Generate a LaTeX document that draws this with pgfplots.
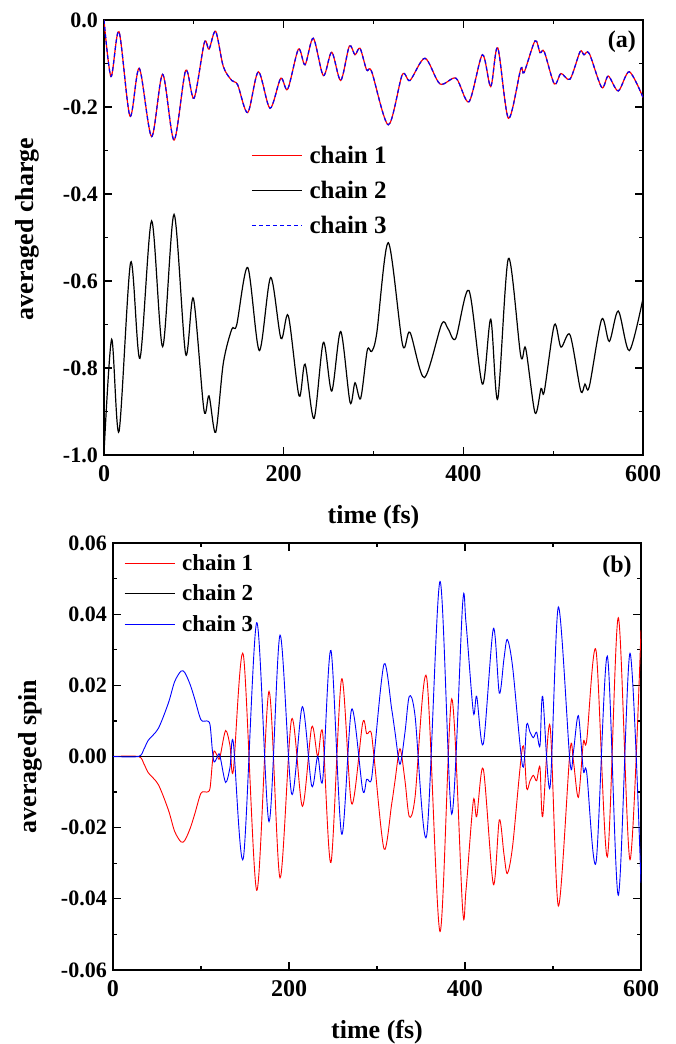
\documentclass[border=0pt]{standalone}
\usepackage{fontspec}
\setmainfont{Liberation Serif}
\usepackage{pgfplots}
\usepackage{pgfplotstable}
\pgfplotsset{compat=1.18}

\pgfplotstableread{
t c1
0 0
7.8 -0.130
16.7 -0.027
28.9 -0.221
39.3 -0.111
53 -0.268
65.3 -0.125
78 -0.276
90.9 -0.116
100.2 -0.180
111.7 -0.052
116.9 -0.067
124.3 -0.026
132.8 -0.107
142.2 -0.139
148.8 -0.149
160 -0.213
171.8 -0.119
184.8 -0.203
196.7 -0.134
204.5 -0.159
216.4 -0.067
223.8 -0.103
233 -0.042
244.2 -0.128
253.5 -0.074
263.5 -0.139
273.1 -0.060
279.4 -0.080
285 -0.065
292.4 -0.115
298 -0.119
316.5 -0.241
332 -0.126
340.6 -0.139
357.3 -0.088
374 -0.147
391.9 -0.134
406.3 -0.188
421.2 -0.080
430.5 -0.153
438.3 -0.064
450.2 -0.226
463.9 -0.113
467.6 -0.121
479.8 -0.048
485.4 -0.075
490.1 -0.073
501.3 -0.147
508.7 -0.123
518.8 -0.136
529.9 -0.073
534.3 -0.080
540.2 -0.077
554 -0.155
561.4 -0.129
572.5 -0.163
584.8 -0.119
600 -0.178
}\chargeA

\pgfplotstableread{
t c2
0 -0.995
8.5 -0.734
16.7 -0.946
29.7 -0.557
40 -0.778
53 -0.462
65.3 -0.751
78 -0.447
90.9 -0.768
99.5 -0.640
111.3 -0.897
116.9 -0.864
124.3 -0.948
132.8 -0.789
142.2 -0.711
147.7 -0.701
160 -0.569
172.9 -0.760
185.5 -0.592
197 -0.732
205.2 -0.680
217.1 -0.864
223.8 -0.791
233.8 -0.916
244.2 -0.741
253.5 -0.853
263.5 -0.716
273.9 -0.879
279.4 -0.834
285.7 -0.870
293.1 -0.759
298 -0.762
303.6 -0.720
316.5 -0.512
332.4 -0.747
340.6 -0.718
356.6 -0.822
375.9 -0.699
383 -0.710
391.5 -0.732
406.3 -0.622
421.2 -0.837
430.5 -0.688
438.3 -0.871
450.2 -0.548
463.9 -0.772
469.4 -0.755
479.8 -0.903
486.5 -0.847
490.1 -0.854
501.3 -0.701
508.7 -0.752
518.8 -0.724
530.6 -0.852
535.4 -0.837
540.2 -0.843
554 -0.688
562.5 -0.739
572.5 -0.669
584.8 -0.760
600 -0.640
}\chargeB

\pgfplotstableread{
t s1 s3
0 0 0
28.8 0 0
35 -0.002 0.002
40.2 -0.0046 0.0046
51.5 -0.0079 0.0079
62.9 -0.015 0.015
70 -0.021 0.021
77.3 -0.024 0.024
81.8 -0.0235 0.0235
88 -0.020 0.020
93.2 -0.0159 0.0159
100 -0.0103 0.0103
106.5 -0.0100 0.0100
110.2 -0.0090 0.0090
112.9 -0.0018 0.0018
114.8 0.0015 -0.0015
117.8 0.0005 -0.0005
120.5 -0.0008 0.0008
122.4 0.0008 -0.0008
128 0.0073 -0.0073
133 0.003 -0.003
136.7 -0.004 0.004
148.1 0.0286 -0.0286
163.3 -0.0376 0.0376
177.3 0.0183 -0.0183
189.8 -0.0341 0.0341
203 0.0105 -0.0105
215.2 -0.0140 0.0140
225.8 0.0083 -0.0083
232.6 0 0
238.3 0.0066 -0.0066
247.7 -0.0298 0.0298
259.8 0.0218 -0.0218
271.2 -0.0133 0.0133
283.7 0.0094 -0.0094
288.3 0.0064 -0.0064
293.2 0.0069 -0.0069
296.6 0 0
308.0 -0.026 0.026
316.7 -0.0133 0.0133
320.5 -0.0068 0.0068
326.1 0.0022 -0.0022
331.8 -0.0068 0.0068
336.7 -0.0169 0.0169
343.2 -0.0115 0.0115
356.4 0.0223 -0.0223
371.6 -0.0492 0.0492
384.9 0.0162 -0.0162
397.3 -0.0429 0.0429
401.1 -0.0377 0.0377
409.5 -0.0124 0.0124
413.3 -0.0169 0.0169
420.8 -0.0035 0.0035
432.2 -0.0359 0.0359
439.0 -0.0178 0.0178
444.3 -0.0275 0.0275
448.1 -0.0329 0.0329
454.2 -0.025 0.025
465.5 0.0028 -0.0028
470.1 -0.009 0.009
473.9 -0.0068 0.0068
477.7 -0.0053 0.0053
481.4 -0.0068 0.0068
485.2 -0.003 0.003
488.3 -0.0169 0.0169
496.6 0.0087 -0.0087
506.1 -0.042 0.042
519.3 0.0015 -0.0015
523.1 -0.0011 0.0011
528.8 -0.0115 0.0115
534.5 0.0040 -0.0040
538.3 0.0045 -0.0045
548.9 0.0298 -0.0298
561.7 -0.0282 0.0282
574.2 0.039 -0.039
587.5 -0.029 0.029
600 0.0355 -0.0355
}\spin

\pgfplotsset{
  myaxis/.style={
    scale only axis,
    anchor=south west,
    xmin=0, xmax=600,
    xtick={0,200,400,600},
    minor x tick num=1,
    minor y tick num=1,
    tick align=inside,
    major tick length=8pt,
    minor tick length=4pt,
    every tick/.style={black, line width=1.2pt},
    axis line style={line width=1.6pt},
    /pgf/number format/assume math mode=true,
    xticklabel style={font=\bfseries\fontsize{24}{24}\selectfont, inner sep=4pt, yshift=-6pt},
    yticklabel style={font=\bfseries\fontsize{22}{22}\selectfont, inner sep=6pt},
    label style={font=\bfseries\fontsize{26}{26}\selectfont},
    legend image code/.code={\draw[##1] (0pt,0pt) -- (50pt,0pt);},
  }
}

\begin{document}
\begin{tikzpicture}
\path[use as bounding box] (0,0) rectangle (676pt,1044pt);

\begin{axis}[myaxis,
  at={(104pt,589pt)},
  width=539pt, height=435pt,
  ymin=-1, ymax=0,
  ytick={-1,-0.8,-0.6,-0.4,-0.2,0},
  yticklabel style={/pgf/number format/fixed, /pgf/number format/fixed zerofill, /pgf/number format/precision=1},
  xlabel={time (fs)},
  ylabel={averaged charge},
  xlabel style={at={(axis description cs:0.5,-0.1425)}, anchor=center},
  ylabel style={at={(axis description cs:-0.143,0.52)}, anchor=center},
  legend style={draw=none, fill=none, at={(axis description cs:0.273,0.713)}, anchor=north west,
    inner sep=0pt, font=\bfseries\fontsize{25}{25}\selectfont, row sep=14pt, column sep=6pt,
    nodes={inner sep=1pt}},
  legend cell align=left,
]
\addplot[red, line width=1.2pt, smooth] table[x=t, y=c1] {\chargeA};
\addlegendentry{chain 1}
\addplot[black, line width=1.2pt, smooth] table[x=t, y=c2] {\chargeB};
\addlegendentry{chain 2}
\addplot[blue, line width=1.2pt, dash pattern=on 4pt off 3pt, smooth] table[x=t, y=c1] {\chargeA};
\addlegendentry{chain 3}
\node[font=\bfseries\fontsize{24}{24}\selectfont] at (axis description cs:0.961,0.949) {(a)};
\end{axis}

\begin{axis}[myaxis,
  at={(113pt,74pt)},
  width=528pt, height=427pt,
  ymin=-0.06, ymax=0.06,
  ytick={-0.06,-0.04,-0.02,0,0.02,0.04,0.06},
  scaled y ticks=false,
  yticklabel style={/pgf/number format/fixed, /pgf/number format/fixed zerofill, /pgf/number format/precision=2},
  xlabel={time (fs)},
  ylabel={averaged spin},
  xlabel style={at={(axis description cs:0.5,-0.145)}, anchor=center},
  ylabel style={at={(axis description cs:-0.157,0.5)}, anchor=center},
  legend style={draw=none, fill=none, at={(axis description cs:0.021,0.976)}, anchor=north west,
    inner sep=0pt, font=\bfseries\fontsize{23}{23}\selectfont, row sep=11pt, column sep=6pt,
    nodes={inner sep=1pt}},
  legend cell align=left,
]
\addplot[red, line width=0.9pt, smooth, tension=0.5] table[x=t, y=s1] {\spin};
\addlegendentry{chain 1}
\addplot[black, line width=0.9pt] coordinates {(0,0) (600,0)};
\addlegendentry{chain 2}
\addplot[blue, line width=0.9pt, smooth, tension=0.5] table[x=t, y=s3] {\spin};
\addlegendentry{chain 3}
\node[font=\bfseries\fontsize{24}{24}\selectfont] at (axis description cs:0.9545,0.944) {(b)};
\end{axis}
\end{tikzpicture}
\end{document}
